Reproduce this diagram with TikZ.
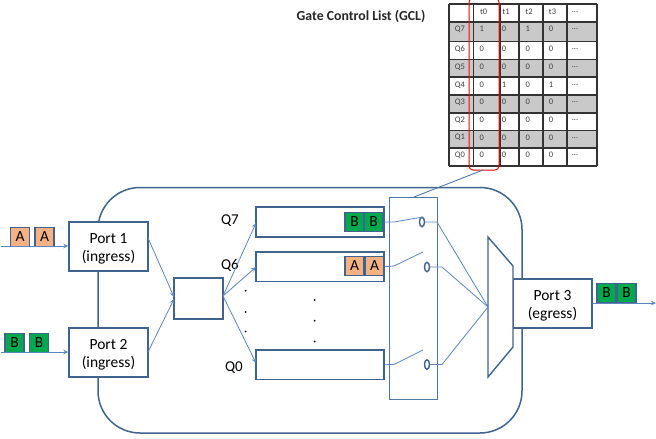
\documentclass[tikz,border=0pt]{standalone}
\usepackage{fontspec}
\setmainfont{Carlito}
\usetikzlibrary{arrows.meta,shapes.geometric}
\definecolor{boxblue}{HTML}{41648F}
\definecolor{linkblue}{HTML}{5B87C2}
\definecolor{thinblue}{HTML}{4F79A8}
\definecolor{pktA}{HTML}{F4B183}
\definecolor{pktB}{HTML}{00A84F}
\definecolor{rowgray}{HTML}{C9C9C9}
\newcommand{\moretxt}{...}
\newcommand{\dn}{\rule{0pt}{14pt}}
\tikzset{
  x=1pt,y=-1pt,
  box/.style={draw=boxblue,line width=1.4pt,fill=white,inner sep=0pt,align=center,font=\fontsize{15.5}{18}\selectfont},
  packet/.style={draw=boxblue,line width=1.3pt,inner sep=0pt,minimum width=19pt,minimum height=19.5pt,font=\fontsize{15.5}{17}\selectfont},
  pa/.style={packet,fill=pktA},
  pb/.style={packet,fill=pktB},
  link/.style={draw=linkblue,line width=0.8pt},
  arrowlink/.style={link,-{Stealth[length=5pt,width=4.5pt]}},
  gate/.style={draw=boxblue,line width=1.4pt,ellipse,fill=none,inner sep=0pt,minimum width=5pt,minimum height=9.5pt},
  qlabel/.style={font=\fontsize{15}{18}\selectfont,inner sep=0pt},
  cell/.style={font=\fontsize{8.5}{10}\selectfont,text=black!75,inner sep=0pt},
  grid/.style={draw=black!80,line width=1.1pt},
  tdot/.style={circle,fill=black,inner sep=0pt,minimum size=2pt},
}
\begin{document}
\begin{tikzpicture}
\useasboundingbox (0,0) rectangle (656,439);
% table
\foreach \a/\b in {22/41.5,59.5/77,95/113,130.5/148}
  \fill[rowgray] (449,\a) rectangle (597,\b);
\foreach \yy in {4,22,41.5,59.5,77,95,113,130.5,148,166}
  \draw[grid] (449,\yy) -- (597,\yy);
\foreach \xx in {449,473.5,500,519,543,567,597}
  \draw[grid] (\xx,4) -- (\xx,166);
\foreach \t/\xx in {t0/483.7,t1/506,t2/529,t3/552.5}
  \node[cell] (h-\t) at (\xx,12) {\t};
\node[cell] (h-more) at (575,12) {\moretxt};
\foreach \q/\yy/\va/\vb/\vc/\vd in {Q7/29/1/0/1/0,Q6/49/0/0/0/0,Q5/67/0/0/0/0,Q4/85/0/1/0/1,Q3/102/0/0/0/0,Q2/120/0/0/0/0,Q1/137.7/0/0/0/0,Q0/155/0/0/0/0}{
  \node[cell] (l-\q) at (460,\yy) {\q};
  \node[cell] (a-\q) at (481.7,\yy) {\va};
  \node[cell] (b-\q) at (504,\yy) {\vb};
  \node[cell] (c-\q) at (527.7,\yy) {\vc};
  \node[cell] (d-\q) at (551,\yy) {\vd};
  \node[cell] (e-\q) at (575,\yy) {\moretxt};
}
\node[font=\bfseries\fontsize{13.8}{16}\selectfont,text=black!85,inner sep=0pt] (title) at (361,16.5) {Gate Control List (GCL)};
\node[draw=red,line width=1pt,rounded corners=4pt,minimum width=30pt,minimum height=172pt,inner sep=0pt] (redbox) at (484,84) {};
% switch body
\node[draw=boxblue,line width=1.5pt,rounded corners=42pt,inner sep=0pt,minimum width=424pt,minimum height=245.5pt] (outer) at (310,310.25) {};
\node[draw=thinblue,line width=0.9pt,inner sep=0pt,minimum width=48pt,minimum height=202pt] (gatebox) at (413,298) {};
\coordinate (glinktop) at (414,197);
\coordinate (rlinkbot) at (483,170);
\draw[draw=thinblue,line width=0.9pt] (rlinkbot) -- (glinktop);
% ports
\node[box,minimum width=79pt,minimum height=49pt] (port1) at (108.5,246.5) {\dn Port 1\\(ingress)};
\node[box,minimum width=79pt,minimum height=49pt] (port2) at (108.5,352.5) {\dn Port 2\\(ingress)};
\node[box,minimum width=49pt,minimum height=41pt] (mixbox) at (198.5,298.5) {};
\node[box,minimum width=79pt,minimum height=49pt] (port3) at (552.5,303.5) {\dn Port 3\\(egress)};
% queues
\node[box,minimum width=128pt,minimum height=30pt] (q7) at (320,222) {};
\node[box,minimum width=128pt,minimum height=29.5pt] (q6) at (320,266.7) {};
\node[box,minimum width=128pt,minimum height=29.5pt] (q0) at (320,364.7) {};
\node[qlabel] (lq7) at (230,221) {Q7};
\node[qlabel] (lq6) at (230,265) {Q6};
\node[qlabel] (lq0) at (234,368) {Q0};
% packets
\node[pb] (p71) at (354.5,222) {B};
\node[pb] (p72) at (373.5,222) {B};
\node[pa] (p61) at (354.5,266) {A};
\node[pa] (p62) at (374.5,266) {A};
\node[pa] (ia1) at (20,237) {A};
\node[pa] (ia2) at (44.5,237) {A};
\node[pb] (ib1) at (14.5,343) {B};
\node[pb] (ib2) at (39,343) {B};
\node[pb] (ob1) at (606.5,293) {B};
\node[pb] (ob2) at (626.5,293) {B};
% mux
\draw[draw=boxblue,line width=1.4pt,fill=white] (488,237) -- (513,266) -- (513,347) -- (488,377) -- cycle;
\coordinate (muxin) at (488,307);
% input and output arrows
\coordinate (in1) at (1,246);
\coordinate (in2) at (1,352);
\coordinate (outend) at (656,303);
\draw[arrowlink] (in1) -- (port1.west |- in1);
\draw[arrowlink] (in2) -- (port2.west |- in2);
\draw[arrowlink] (port3.east |- outend) -- (outend);
% fan-in / fan-out
\coordinate (p1out) at (148,238);
\coordinate (p2out) at (148,352);
\coordinate (mixin) at (174,297);
\coordinate (mixin2) at (174,299);
\coordinate (mixout) at (223,296);
\coordinate (q7in) at (256,223);
\coordinate (q6in) at (256,267);
\coordinate (q0in) at (256,363);
\draw[arrowlink] (p1out) -- (mixin);
\draw[arrowlink] (p2out) -- (mixin2);
\draw[arrowlink] (mixout) -- (q7in);
\draw[arrowlink] (mixout) -- (q6in);
\draw[arrowlink] (mixout) -- (q0in);
% gates
\node[gate] (g7) at (422,222) {};
\node[gate] (g6) at (427,267) {};
\node[gate] (g0) at (427,364.5) {};
\draw[link] (q7.east) -- (394,222) -- (423,217);
\draw[link] (q6.east) -- (394,266) -- (423,252);
\draw[link] (q0.east) -- (394,364.5) -- (423,350);
\draw[link] (g7.east) -- (437,222) -- (muxin);
\draw[link] (g6.east) -- (442,267) -- (muxin);
\draw[link] (g0.east) -- (442,364.5) -- (muxin);
% dots
\foreach \n/\xx/\yy in {a/245.7/290.7,b/245.7/312,c/245.7/331.5,d/314.7/300,e/314.7/320.7,f/314.7/341.5}
  \node[tdot] (dot\n) at (\xx,\yy) {};
\end{tikzpicture}
\end{document}
